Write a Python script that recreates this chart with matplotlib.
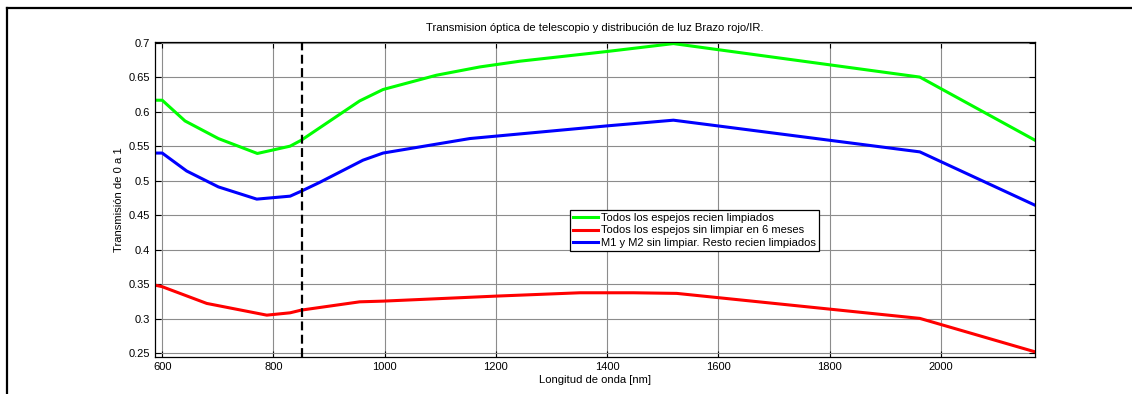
import matplotlib
matplotlib.use("Agg")
from matplotlib import pyplot as plt
from matplotlib.lines import Line2D

plt.rcParams['font.family'] = ['Liberation Sans', 'DejaVu Sans']

# longitudes de onda (nm) y transmision de cada caso
wl_verde = [587, 600, 641, 701, 771, 830, 850, 955, 997, 1093, 1171, 1243, 1399, 1519, 1962, 2169]
t_verde = [0.6165, 0.6165, 0.5865, 0.561, 0.5394, 0.550, 0.5586, 0.6155, 0.632,
           0.6527, 0.6647, 0.673, 0.687, 0.6985, 0.650, 0.5586]

wl_rojo = [587, 600, 680, 788, 830, 850, 955, 997, 1201, 1351, 1447, 1525, 1962, 2169]
t_rojo = [0.3488, 0.3465, 0.3223, 0.3053, 0.3087, 0.3126, 0.3246, 0.3256, 0.3329, 0.3377,
          0.3377, 0.3368, 0.3006, 0.2522]

wl_azul = [587, 600, 644, 701, 770, 830, 850, 883, 961, 997, 1153, 1399, 1519, 1962, 2169]
t_azul = [0.540, 0.540, 0.514, 0.491, 0.4733, 0.4776, 0.4848, 0.4975, 0.5297, 0.540,
          0.561, 0.5793, 0.5876, 0.5417, 0.4645]

etiquetas = ["Todos los espejos recien limpiados",
             "Todos los espejos sin limpiar en 6 meses",
             "M1 y M2 sin limpiar. Resto recien limpiados"]

corte = 852  # linea vertical discontinua

xticks = [600, 800, 1000, 1200, 1400, 1600, 1800, 2000]
yticks = [0.25, 0.3, 0.35, 0.4, 0.45, 0.5, 0.55, 0.6, 0.65, 0.7]

fig = plt.figure(figsize=(11.32, 3.94), dpi=100)
ax = fig.add_axes([0.1369, 0.0939, 0.7774, 0.7995])

ax.plot(wl_verde, t_verde, color='#00ff00', lw=2.2, label=etiquetas[0])
ax.plot(wl_rojo, t_rojo, color='#ff0000', lw=2.2, label=etiquetas[1])
ax.plot(wl_azul, t_azul, color='#0000ff', lw=2.2, label=etiquetas[2])
ax.axvline(corte, color='black', lw=1.6, linestyle=(0, (4, 2)))

ax.set_xlim(587, 2169)
ax.set_ylim(0.2447, 0.7008)
ax.set_xticks(xticks)
ax.set_yticks(yticks)
ax.set_yticklabels(['%g' % v for v in yticks])
ax.grid(True, color='#8c8c8c', lw=0.8)
ax.tick_params(direction='in', top=True, right=True, length=4, labelsize=8, width=0.8)
for s in ax.spines.values():
    s.set_linewidth(0.9)

ax.set_title("Transmision óptica de telescopio y distribución de luz Brazo rojo/IR.", fontsize=8.1, pad=8)
ax.set_xlabel("Longitud de onda [nm]", fontsize=8.1, labelpad=2)
ax.set_ylabel("Transmisión de 0 a 1", fontsize=8.1, labelpad=3)

leg = ax.legend(loc='lower left', bbox_to_anchor=(0.4716, 0.3365), fontsize=8.0,
                fancybox=False, framealpha=1, edgecolor='black', handlelength=2.2,
                handletextpad=0.3, borderpad=0.3, labelspacing=0.2, borderaxespad=0)
leg.get_frame().set_linewidth(0.9)

# marco de la figura (izquierda y arriba)
fig.add_artist(Line2D([0.0062, 0.0062], [0, 0.979], color='black', lw=1.6, transform=fig.transFigure))
fig.add_artist(Line2D([0.0062, 1], [0.979, 0.979], color='black', lw=1.6, transform=fig.transFigure))

fig.savefig("out.png", dpi=100)
